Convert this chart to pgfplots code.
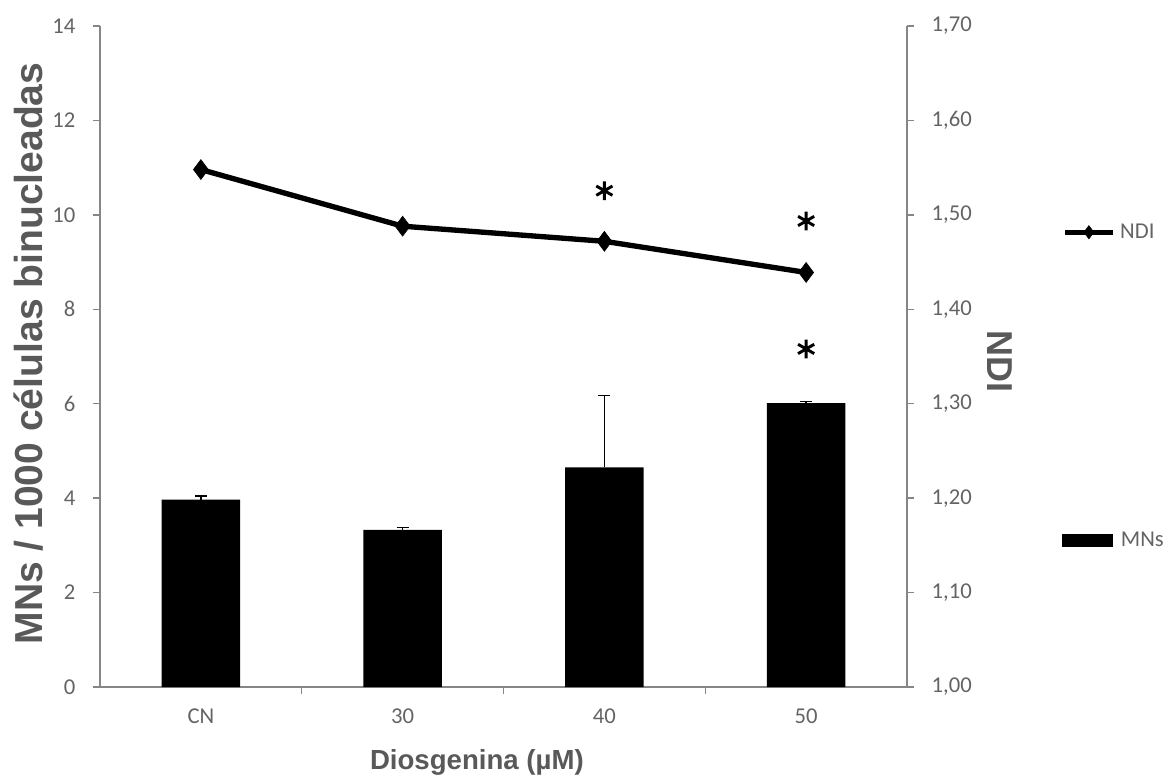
\documentclass[border=0pt]{standalone}
\usepackage{fontspec}
\setmainfont{Carlito}
\newfontfamily\arialfont{Liberation Sans}
\usepackage{pgfplots}
\pgfplotsset{compat=1.18}
\definecolor{axgray}{RGB}{134,134,134}
\definecolor{tickgray}{RGB}{100,100,100}
\definecolor{titlegray}{RGB}{89,89,89}
\pgfplotsset{common/.style={
  scale only axis, width=605.25pt, height=495.75pt,
  at={(0,0)}, anchor=south west,
  xmin=-0.5, xmax=3.5, clip=false,
  axis line style={-, draw=axgray, line width=1.1pt},
  tick style={draw=axgray, line width=1.1pt},
  tick align=outside, major tick length=5.25pt,
  tick label style={font=\fontsize{17}{20}\selectfont, text=tickgray},
  /pgf/number format/assume math mode=true,
}}
\begin{document}
\begin{tikzpicture}
\path[use as bounding box] (-75pt,-66.75pt) rectangle (802.5pt,515.25pt);
\begin{axis}[common,
  ymin=0, ymax=14, ytick={0,2,4,6,8,10,12,14},
  axis y line*=left, axis x line*=bottom,
  xtick={0.5,1.5,2.5}, xticklabels={,,},
  extra x ticks={0,1,2,3}, extra x tick labels={CN,30,40,50},
  extra x tick style={major tick length=0pt, tick style={draw=none}},
  xticklabel style={anchor=north, inner sep=0pt, yshift=-16pt},
  yticklabel style={anchor=east, inner sep=0pt, xshift=-13pt},
  ylabel={MNs / 1000 células binucleadas},
  ylabel style={font=\arialfont\bfseries\fontsize{29.3}{34}\selectfont, text=titlegray,
    at={(axis description cs:-0.088,0.5045)}, anchor=center, inner sep=0pt},
  xlabel={Diosgenina (µM)},
  xlabel style={font=\arialfont\bfseries\fontsize{20.7}{24}\selectfont, text=titlegray,
    at={(axis description cs:0.467,0)}, anchor=north, yshift=-46.5pt, inner sep=0pt},
  legend style={at={(1.192,0.2216)}, anchor=west, draw=none, fill=none,
    font=\fontsize{17}{20}\selectfont, text=tickgray, inner sep=0pt},
  legend image code/.code={\fill[black] (0pt,-5pt) rectangle (38pt,5pt);},
]
\addplot[ybar, bar width=0.39, fill=black, draw=none,
  error bars/.cd, y dir=plus, y explicit,
  error bar style={draw=black, solid, line width=1pt},
  error mark options={rotate=90, draw=black, mark size=4.5pt, line width=1pt}]
  table[x=x, y=y, y error=e] {
x y e
0 3.97 0.075
1 3.33 0.045
2 4.65 1.52
3 6.01 0.03
};
\addlegendentry{\hspace{4pt}MNs}
\end{axis}
\begin{axis}[common,
  ymin=1, ymax=1.7, ytick={1,1.1,1.2,1.3,1.4,1.5,1.6,1.7},
  axis y line*=right, axis x line=none,
  yticklabel style={anchor=west, inner sep=0pt, xshift=13pt,
    /pgf/number format/.cd, fixed, fixed zerofill, precision=2, use comma},
  ylabel={NDI},
  ylabel style={font=\arialfont\bfseries\fontsize{27}{32}\selectfont, text=titlegray,
    at={(axis description cs:1.1152,0.493)}, anchor=center, rotate=180, inner sep=0pt},
  legend style={at={(1.192,0.688)}, anchor=west, draw=none, fill=none,
    font=\fontsize{17}{20}\selectfont, text=tickgray, inner sep=0pt},
  legend image code/.code={\draw[#1, mark size=5pt, mark repeat=2, mark phase=2] plot coordinates {(0pt,0pt) (18pt,0pt) (36pt,0pt)};},
]
\addplot[black, line width=4pt, mark=diamond*, mark size=7.5pt,
  mark options={solid, fill=black, line width=0.4pt}]
  coordinates {(0,1.548) (1,1.488) (2,1.472) (3,1.439)};
\addlegendentry{\hspace{1.5pt}NDI}
\addplot[forget plot, only marks, black, mark=asterisk, mark size=7pt,
  mark options={line width=2.2pt}]
  coordinates {(2,1.5256) (3,1.4935) (3,1.358)};
\end{axis}
\end{tikzpicture}
\end{document}
